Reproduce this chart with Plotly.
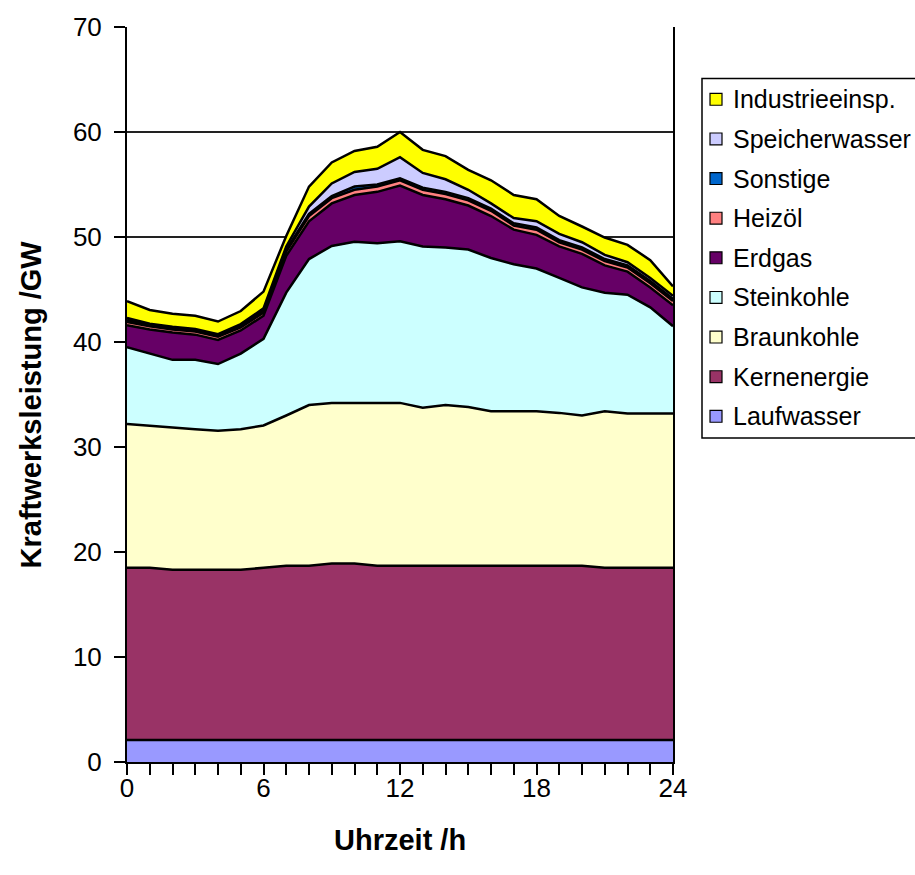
import plotly.graph_objects as go

# Hourly generation mix over one day (GW), stacked from the bottom up
hours = [0, 1, 2, 3, 4, 5, 6, 7, 8, 9, 10, 11, 12, 13, 14, 15, 16, 17, 18, 19, 20, 21, 22, 23, 24]

laufwasser = [2.1, 2.1, 2.1, 2.1, 2.1, 2.1, 2.1, 2.1, 2.1, 2.1, 2.1, 2.1, 2.1,
              2.1, 2.1, 2.1, 2.1, 2.1, 2.1, 2.1, 2.1, 2.1, 2.1, 2.1, 2.1]
kernenergie = [16.4, 16.4, 16.2, 16.2, 16.2, 16.2, 16.4, 16.6, 16.6, 16.8, 16.8, 16.6, 16.6,
               16.6, 16.6, 16.6, 16.6, 16.6, 16.6, 16.6, 16.6, 16.4, 16.4, 16.4, 16.4]
braunkohle = [13.7, 13.5, 13.55, 13.4, 13.25, 13.4, 13.55, 14.3, 15.3, 15.3, 15.3, 15.5, 15.5,
              15.05, 15.3, 15.1, 14.7, 14.7, 14.7, 14.55, 14.3, 14.9, 14.7, 14.7, 14.7]
steinkohle = [7.3, 6.9, 6.45, 6.6, 6.35, 7.2, 8.25, 11.7, 13.9, 14.95, 15.35, 15.2, 15.4,
              15.35, 15.0, 15.0, 14.6, 14.0, 13.6, 12.85, 12.2, 11.3, 11.3, 10.1, 8.3]
erdgas = [2.1, 2.3, 2.6, 2.4, 2.3, 2.2, 2.2, 3.5, 3.6, 4.05, 4.45, 4.9, 5.3,
          4.9, 4.6, 4.2, 4.0, 3.3, 3.2, 3.0, 3.2, 2.6, 2.2, 1.9, 2.0]
heizoel = [0.3, 0.3, 0.3, 0.3, 0.3, 0.3, 0.3, 0.4, 0.5, 0.5, 0.5, 0.5, 0.5,
           0.5, 0.5, 0.5, 0.5, 0.4, 0.5, 0.4, 0.4, 0.4, 0.4, 0.4, 0.4]
sonstige = [0.2, 0.15, 0.15, 0.15, 0.15, 0.2, 0.2, 0.2, 0.2, 0.2, 0.3, 0.2, 0.2,
            0.2, 0.2, 0.2, 0.2, 0.2, 0.2, 0.2, 0.2, 0.2, 0.2, 0.2, 0.2]
speicherwasser = [0.2, 0.1, 0.1, 0.1, 0.1, 0.1, 0.2, 0.3, 0.7, 1.2, 1.4, 1.5, 2.0,
                  1.4, 1.2, 0.8, 0.5, 0.5, 0.6, 0.6, 0.5, 0.4, 0.3, 0.3, 0.3]
industrie = [1.6, 1.3, 1.25, 1.25, 1.2, 1.25, 1.6, 1.0, 1.9, 2.0, 2.0, 2.1, 2.4,
             2.2, 2.2, 1.9, 2.2, 2.2, 2.1, 1.7, 1.5, 1.65, 1.65, 1.7, 0.9]

series_names = ["Laufwasser", "Kernenergie", "Braunkohle", "Steinkohle", "Erdgas",
                "Heizöl", "Sonstige", "Speicherwasser", "Industrieeinsp."]
series_values = [laufwasser, kernenergie, braunkohle, steinkohle, erdgas,
                 heizoel, sonstige, speicherwasser, industrie]
series_colors = ["#9999FF", "#993366", "#FFFFCC", "#CCFFFF", "#660066",
                 "#FF8080", "#0066CC", "#CCCCFF", "#FFFF00"]

x_ticks = [0, 1, 2, 3, 4, 5, 6, 7, 8, 9, 10, 11, 12, 13, 14, 15, 16, 17, 18, 19, 20, 21, 22, 23, 24]
x_ticktext = ["0", "", "", "", "", "", "6", "", "", "", "", "", "12",
              "", "", "", "", "", "18", "", "", "", "", "", "24"]
y_ticks = [0, 10, 20, 30, 40, 50, 60, 70]

FONT = "Liberation Sans, Arial, sans-serif"
W, H = 915, 875
ML, MR, MT, MB = 127, 242, 20, 113
PW, PH = W - ML - MR, H - MT - MB


def px_x(px):
    return (px - ML) / PW


def px_y(py):
    return (H - MB - py) / PH


fig = go.Figure()
for name, vals, col in zip(series_names, series_values, series_colors):
    fig.add_trace(go.Scatter(
        x=hours, y=vals, name=name, mode="lines", stackgroup="one",
        line=dict(color="black", width=2.5), fillcolor=col, showlegend=False,
    ))

# Legend box drawn as a framed list, top entry = top layer
shapes = [dict(type="rect", xref="paper", yref="paper",
               x0=px_x(702), x1=px_x(940), y0=px_y(435), y1=px_y(72),
               line=dict(color="black", width=1.5), fillcolor="white", layer="above")]
annotations = []
legend_top = 93
legend_step = 40.0
for i, (name, col) in enumerate(zip(reversed(series_names), reversed(series_colors))):
    cy = legend_top + i * legend_step
    shapes.append(dict(type="rect", xref="paper", yref="paper",
                       x0=px_x(710), x1=px_x(722), y0=px_y(cy + 6), y1=px_y(cy - 6),
                       line=dict(color="black", width=1.2), fillcolor=col, layer="above"))
    annotations.append(dict(xref="paper", yref="paper", x=px_x(731), y=px_y(cy),
                            xanchor="left", yanchor="middle", showarrow=False,
                            text=name, font=dict(family=FONT, size=25, color="black")))

# Axis titles
annotations.append(dict(xref="paper", yref="paper", x=px_x(400), y=px_y(841),
                        xanchor="center", yanchor="middle", showarrow=False,
                        text="<b>Uhrzeit /h</b>", font=dict(family=FONT, size=29, color="black")))
annotations.append(dict(xref="paper", yref="paper", x=px_x(31), y=px_y(401),
                        xanchor="center", yanchor="middle", showarrow=False, textangle=-90,
                        text="<b>Kraftwerksleistung /GW</b>",
                        font=dict(family=FONT, size=29, color="black")))

fig.update_layout(
    width=W, height=H,
    margin=dict(l=ML, r=MR, t=MT, b=MB, pad=0),
    paper_bgcolor="white", plot_bgcolor="white",
    font=dict(family=FONT, color="black"),
    showlegend=False,
    shapes=shapes, annotations=annotations,
    xaxis=dict(range=[0, 24], tickmode="array", tickvals=x_ticks, ticktext=x_ticktext,
               ticks="outside", ticklen=11, tickwidth=2, tickcolor="black",
               ticklabelstandoff=-9,
               showline=True, linecolor="black", linewidth=2, showgrid=False, zeroline=False,
               tickfont=dict(family=FONT, size=26, color="black")),
    yaxis=dict(range=[0, 70], tickmode="array", tickvals=y_ticks,
               ticks="outside", ticklen=11, tickwidth=2, tickcolor="black",
               ticklabelstandoff=7,
               showline=True, linecolor="black", linewidth=2, mirror=True,
               showgrid=True, gridcolor="#222222", gridwidth=1.5, zeroline=False,
               tickfont=dict(family=FONT, size=26, color="black")),
)

fig.write_html("out.html")
